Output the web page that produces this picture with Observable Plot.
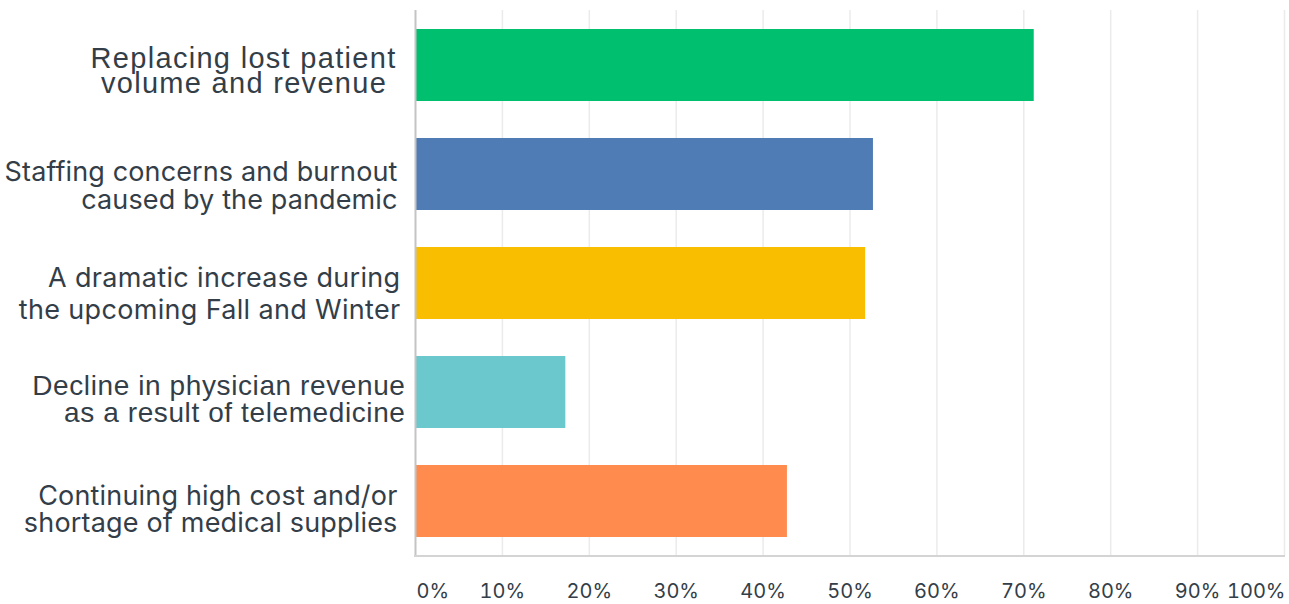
<!DOCTYPE html>
<html>
<head>
<meta charset="utf-8">
<script src="https://cdn.jsdelivr.net/npm/d3@7"></script>
<script src="https://cdn.jsdelivr.net/npm/@observablehq/plot@0.6"></script>
<style>
  html, body { margin: 0; padding: 0; background: #ffffff; }
  #chart svg { display: block; }
</style>
</head>
<body>
<div id="chart"></div>
<script>
// ---- Data ----
const categories = [
  "Replacing lost patient volume and revenue",
  "Staffing concerns and burnout caused by the pandemic",
  "A dramatic increase during the upcoming Fall and Winter",
  "Decline in physician revenue as a result of telemedicine",
  "Continuing high cost and/or shortage of medical supplies"
];
const labelLines = [
  "Replacing lost patient\nvolume and revenue\u00a0",
  "Staffing concerns and burnout\ncaused by the pandemic",
  "A dramatic increase during\nthe upcoming Fall and Winter",
  "Decline in physician revenue\nas a result of telemedicine",
  "Continuing high cost and/or\nshortage of medical supplies"
];
const values = [0.712, 0.527, 0.518, 0.173, 0.428];
const colors = ["#00bf6f", "#507cb6", "#f9be00", "#6bc8cd", "#ff8b4f"];
const tickValues = [0, 0.1, 0.2, 0.3, 0.4, 0.5, 0.6, 0.7, 0.8, 0.9, 1];

// ---- Table ----
const rows = categories.map((c, i) => ({ category: c, label: labelLines[i], value: values[i] }));

// ---- Styles ----
const textColor = "#333e48";
const labelStyle = [
  { fontFamily: "Liberation Sans, Arial, sans-serif", fontSize: 29, lineHeight: 0.862, dx: -19, dy: 6.5 },
  { fontFamily: "Inter, sans-serif", fontSize: 27, lineHeight: 1.037, dx: -18, dy: 11.4 },
  { fontFamily: "Inter, sans-serif", fontSize: 27, lineHeight: 1.17, dx: -15, dy: 9.2 },
  { fontFamily: "Liberation Sans, Arial, sans-serif", fontSize: 28, lineHeight: 0.95, dx: -10, dy: 7.2 },
  { fontFamily: "Inter, sans-serif", fontSize: 27, lineHeight: 0.99, dx: -18, dy: 8.3 }
];
const labelSpacing = [1.3, 0.12, 0.33, 0.6, 0.18];
const pct = d => Math.round(d * 100) + "%";

const labelMarks = rows.map((r, i) => Plot.text([r], {
  y: "category",
  frameAnchor: "left",
  text: "label",
  textAnchor: "end",
  fill: textColor,
  ...labelStyle[i]
}));

const axisStyle = {
  tickSize: 0, tickPadding: 27, tickFormat: pct, label: null,
  fontSize: 20, fontFamily: "Inter, sans-serif", fill: textColor
};

const chart = Plot.plot({
  width: 1289,
  height: 604,
  marginLeft: 415,
  marginRight: 5,
  marginTop: 10,
  marginBottom: 48,
  style: { background: "#ffffff", color: textColor, overflow: "visible" },
  x: { domain: [0, 1], axis: null, label: null },
  y: { domain: categories, axis: null, label: null, paddingInner: 0.34, paddingOuter: 0.17 },
  color: { domain: categories, range: colors },
  marks: [
    Plot.gridX(tickValues.slice(1), { stroke: "#ebebeb", strokeOpacity: 1, strokeWidth: 1.5 }),
    Plot.barX(rows, { x: "value", y: "category", fill: "category" }),
    Plot.ruleX([0], { stroke: "#c4c4c4", strokeWidth: 2 }),
    Plot.axisX(tickValues.slice(1, -1), axisStyle),
    Plot.axisX([0], { ...axisStyle, textAnchor: "start", dx: 1 }),
    Plot.axisX([1], { ...axisStyle, textAnchor: "end", dx: 1 }),
    ...labelMarks
  ]
});

// letter spacing of the category labels (the five text marks, in order)
d3.select(chart).selectAll('g[aria-label="text"]').each(function (_, i) {
  if (labelSpacing[i] != null) {
    d3.select(this).attr("letter-spacing", labelSpacing[i]).style("letter-spacing", labelSpacing[i] + "px");
  }
});

// bottom baseline of the plotting frame, positioned from the library's scales
const xs = chart.scale("x"), ys = chart.scale("y");
const yBottom = d3.max(ys.range);
d3.select(chart).append("line")
  .attr("x1", d3.min(xs.range) - 1).attr("x2", d3.max(xs.range) + 1)
  .attr("y1", yBottom).attr("y2", yBottom)
  .attr("stroke", "#d4d4d4").attr("stroke-width", 2);

document.getElementById("chart").appendChild(chart);
</script>
</body>
</html>
